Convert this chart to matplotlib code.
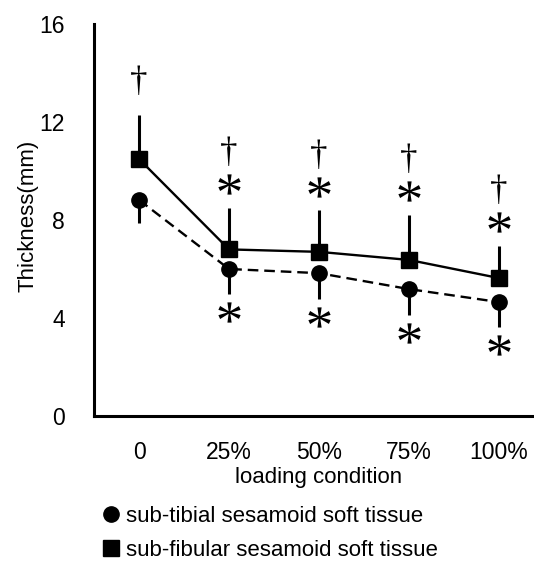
import numpy as np
import matplotlib.pyplot as plt
from matplotlib.lines import Line2D
from matplotlib.path import Path
from matplotlib.textpath import TextPath
from matplotlib.font_manager import FontProperties
from matplotlib.transforms import ScaledTranslation

plt.rcParams["font.family"] = ["Liberation Sans", "DejaVu Sans"]

conditions = ["0", "25%", "50%", "75%", "100%"]
tibial_mean = [8.82, 6.0, 5.83, 5.18, 4.65]
tibial_sd = [0.94, 1.02, 1.05, 1.06, 1.02]
fibular_mean = [10.49, 6.8, 6.7, 6.37, 5.63]
fibular_sd = [1.8, 1.69, 1.7, 1.83, 1.31]
has_dagger = [True, True, True, True, True]
has_star = [False, True, True, True, True]

x = np.arange(len(conditions))


def centered_glyph(ch, family):
    tp = TextPath((0, 0), ch, size=10, prop=FontProperties(family=family))
    v = tp.vertices.copy()
    closing = tp.codes == Path.CLOSEPOLY
    mid = (v[~closing].min(axis=0) + v[~closing].max(axis=0)) / 2
    v = v - mid
    v[closing] = 0
    return Path(v, tp.codes)


star = centered_glyph("*", "Liberation Serif")

fig = plt.figure(figsize=(5.34, 5.61), dpi=100)
ax = fig.add_axes([94 / 534, 145 / 561, 450 / 534, 392 / 561])

zeros = np.zeros(len(x))
ax.errorbar(x, fibular_mean, yerr=[zeros, fibular_sd], fmt="none",
            ecolor="black", elinewidth=2.2, capsize=0, zorder=2)
ax.errorbar(x, tibial_mean, yerr=[tibial_sd, zeros], fmt="none",
            ecolor="black", elinewidth=2.2, capsize=0, zorder=2)
ax.plot(x, fibular_mean, color="black", lw=1.7, marker="s", ms=11.5, zorder=3)
ax.plot(x, tibial_mean, color="black", lw=1.7, ls=(0, (4.5, 2.5)),
        marker="o", ms=11, zorder=3)

# significance marks, offset from the error bar ends
tops = np.array(fibular_mean) + np.array(fibular_sd)
bottoms = np.array(tibial_mean) - np.array(tibial_sd)
sx = x[has_star]
up = ax.transData + ScaledTranslation(0, 17 / 72, fig.dpi_scale_trans)
down = ax.transData + ScaledTranslation(0, -13 / 72, fig.dpi_scale_trans)
ax.plot(sx, tops[has_star], ls="none", marker=star, ms=16, mfc="black",
        mew=0, transform=up, clip_on=False)
ax.plot(sx, bottoms[has_star], ls="none", marker=star, ms=16, mfc="black",
        mew=0, transform=down, clip_on=False)

for i in range(len(x)):
    if not has_dagger[i]:
        continue
    dy = 39 if has_star[i] else 23
    ax.annotate("\u2020", (x[i], tops[i]), xytext=(0, dy), textcoords="offset points",
                ha="center", va="center", fontsize=25, family="Liberation Serif")

ax.set_xlim(-0.5, 4.5)
ax.set_ylim(0, 16)
ax.set_yticks([0, 4, 8, 12, 16])
ax.set_xticks(x)
ax.set_xticklabels(conditions)
ax.tick_params(axis="both", length=0, labelsize=16.5)
ax.tick_params(axis="y", pad=21)
ax.tick_params(axis="x", pad=18)
for side in ["top", "right"]:
    ax.spines[side].set_visible(False)
for side in ["left", "bottom"]:
    ax.spines[side].set_linewidth(2.2)

ax.set_ylabel("Thickness(mm)", fontsize=16, va="center")
ax.yaxis.set_label_coords(-0.147, 0.51)
ax.set_xlabel("loading condition", fontsize=16, va="center")
ax.xaxis.set_label_coords(0.5, -0.158)

handles = [Line2D([], [], color="black", marker="o", ls="none", ms=11),
           Line2D([], [], color="black", marker="s", ls="none", ms=11)]
fig.legend(handles, ["sub-tibial sesamoid soft tissue", "sub-fibular sesamoid soft tissue"],
           loc="upper left", bbox_to_anchor=(104 / 534, 1 - 506 / 561), frameon=False,
           fontsize=16, handlelength=0.65, handletextpad=0.35, borderpad=0,
           borderaxespad=0, labelspacing=0.57)

fig.savefig("out.png", dpi=100)
